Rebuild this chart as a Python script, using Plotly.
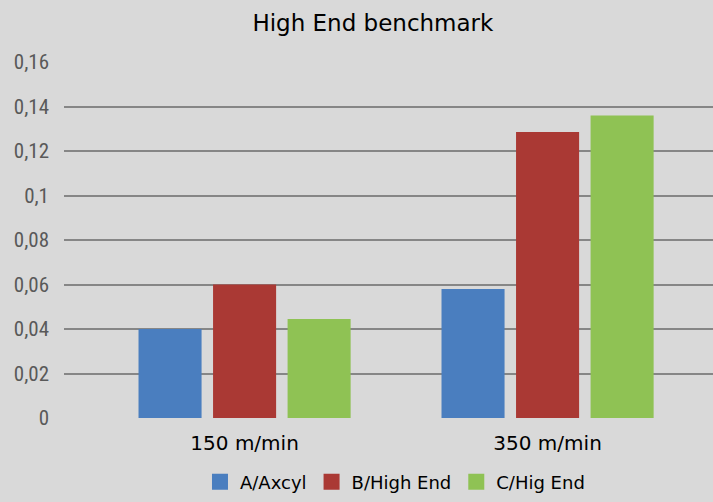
import plotly.graph_objects as go

categories = ["150 m/min", "350 m/min"]
series_names = ["A/Axcyl", "B/High End", "C/Hig End"]
a_values = [0.040, 0.058]
b_values = [0.060, 0.1285]
c_values = [0.0445, 0.136]
tick_values = [0, 0.02, 0.04, 0.06, 0.08, 0.1, 0.12, 0.14, 0.16]
tick_labels = ["0", "0,02", "0,04", "0,06", "0,08", "0,1", "0,12", "0,14", "0,16"]

colors = ["#4a7ebf", "#aa3934", "#8fc254"]

fig = go.Figure()
for name, vals, col in zip(series_names, [a_values, b_values, c_values], colors):
    fig.add_trace(go.Bar(x=categories, y=vals, name=name, legendgroup=name, showlegend=False,
                         marker=dict(color=col, line=dict(width=0))))
# legend proxies with larger square symbols
for name, col in zip(series_names, colors):
    fig.add_trace(go.Scatter(x=[None], y=[None], mode="markers", name=name, legendgroup=name,
                             marker=dict(symbol="square", size=18, color=col), showlegend=True))

fig.update_layout(
    width=713, height=502,
    paper_bgcolor="#d9d9d9", plot_bgcolor="#d9d9d9",
    margin=dict(l=64, r=0, t=62, b=84),
    title=dict(text="High End benchmark", x=0.523, xanchor="center", y=0.955, yanchor="middle",
               font=dict(family="DejaVu Sans", size=23, color="#000000")),
    barmode="group", bargap=0.262, bargroupgap=0.154,
    showlegend=True,
    legend=dict(orientation="h", x=0.51, xanchor="center", y=-0.18, yanchor="middle",
                font=dict(family="DejaVu Sans", size=18, color="#000000"), itemwidth=30,
                bgcolor="rgba(0,0,0,0)", traceorder="normal"),
    xaxis=dict(range=[-0.596, 1.546], showgrid=False, showline=False, zeroline=False, ticks="",
               ticklabelstandoff=11,
               tickfont=dict(family="DejaVu Sans", size=20, color="#000000")),
    yaxis=dict(range=[0, 0.16], tickvals=tick_values, ticktext=tick_labels, showgrid=True,
               gridcolor="#868686", gridwidth=1.5, zeroline=False, showline=False, ticks="",
               ticklabelstandoff=14,
               tickfont=dict(family="Liberation Sans Narrow, Roboto Condensed, Liberation Sans", size=21, color="#595959")),
)

fig.write_html("out.html", config={"displayModeBar": False},
               post_script="document.body.style.margin='0';")
